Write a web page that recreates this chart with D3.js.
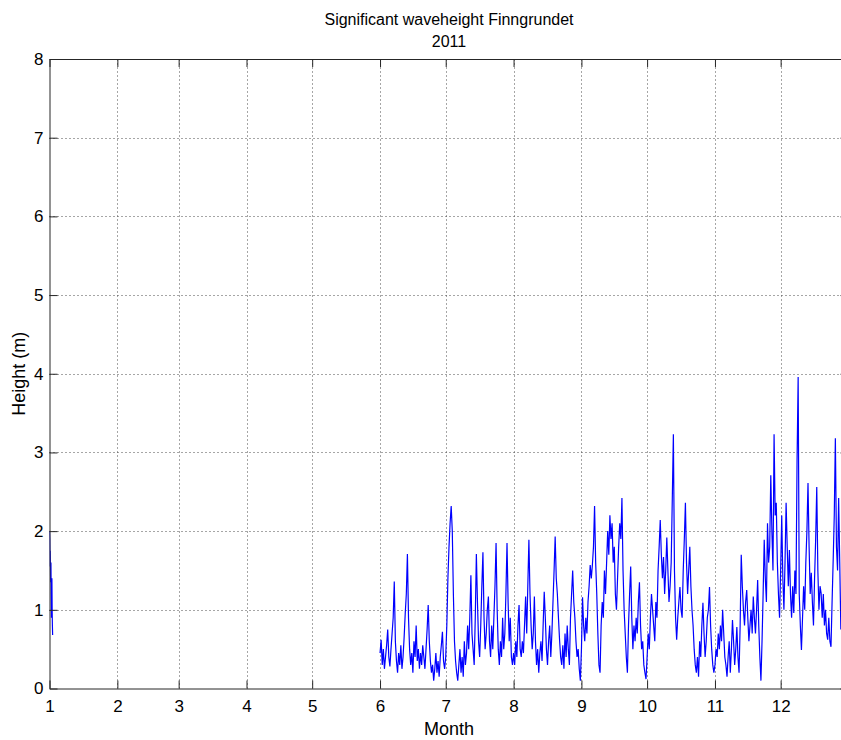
<!DOCTYPE html>
<html>
<head>
<meta charset="utf-8">
<title>Significant waveheight Finngrundet 2011</title>
<script src="https://cdn.jsdelivr.net/npm/d3@7"></script>
<style>
  html, body { margin: 0; padding: 0; background: #fff; }
  svg { display: block; }
  text { font-family: "Liberation Sans", Arial, Helvetica, sans-serif; fill: #000; }
</style>
</head>
<body>
<svg id="chart" width="841" height="740"></svg>
<script>
// Month boundaries as day-of-year offsets from 1 January 2011, and their labels
const monthStarts = [0, 31, 59, 90, 120, 151, 181, 212, 243, 273, 304, 334];
const monthLabels = ["1", "2", "3", "4", "5", "6", "7", "8", "9", "10", "11", "12"];
const heightTicks = [0, 1, 2, 3, 4, 5, 6, 7, 8];

// Significant wave height (m). Each array starts at the given day and
// has one sample per step (days).
const janStart = 0, janStep = 0.11;
const janHs = [2.0, 1.9, 1.55, 1.75, 1.5, 1.35, 1.6, 1.2, 0.9, 1.1, 1.4, 1.0, 0.8, 0.68];

const sampleStep = 0.5;
const junStart = 151;
const junHs = [
  0.45, 0.62, 0.3, 0.5, 0.25, 0.4, 0.55, 0.75, 0.4, 0.28,
  0.5, 0.7, 0.9, 1.36, 0.6, 0.35, 0.2, 0.45, 0.3, 0.55,
  0.25, 0.4, 0.65, 0.95, 1.2, 1.71, 0.9, 0.5, 0.3, 0.45,
  0.2, 0.6, 0.4, 0.8, 0.35, 0.5, 0.25, 0.45, 0.3, 0.55,
  0.4, 0.25, 0.5, 0.75, 1.06, 0.6, 0.35, 0.2, 0.3, 0.1,
  0.25, 0.45, 0.2, 0.35, 0.15, 0.4, 0.55, 0.72, 0.35, 0.25
];
const julStart = 181;
const julHs = [
  0.4, 0.8, 1.4, 1.8, 2.1, 2.32, 2.0, 1.2, 0.6, 0.35,
  0.2, 0.1, 0.3, 0.5, 0.2, 0.4, 0.15, 0.6, 0.3, 0.45,
  0.8, 0.5, 0.9, 1.44, 0.7, 0.5, 0.3, 0.9, 1.71, 1.1,
  0.6, 0.4, 0.8, 1.3, 1.73, 0.9, 0.5, 0.7, 1.0, 1.17,
  0.6, 0.4, 0.8, 0.5, 0.9, 1.3, 1.85, 1.0, 0.5, 0.3,
  0.6, 0.4, 0.9, 0.5, 0.7, 1.2, 1.85, 1.1, 0.6, 0.9,
  0.4, 0.3
];
const augStart = 212;
const augHs = [
  0.45, 0.3, 0.6, 0.4, 0.8, 1.06, 0.5, 0.4, 0.6, 0.45,
  0.8, 1.17, 0.7, 1.3, 1.89, 1.2, 0.8, 0.5, 0.7, 1.17,
  0.6, 0.3, 0.5, 0.2, 0.45, 0.6, 0.35, 0.8, 1.23, 0.9,
  0.5, 0.3, 0.6, 0.8, 0.4, 0.7, 1.1, 1.5, 1.93, 1.4,
  1.2, 0.9, 0.62, 0.4, 0.3, 0.55, 0.25, 0.7, 0.4, 0.8,
  0.5, 0.3, 0.9, 1.2, 1.5, 1.1, 0.9, 0.6, 0.4, 0.5,
  0.25, 0.1
];
const sepStart = 243;
const sepHs = [
  0.5, 1.16, 0.8, 0.6, 0.9, 0.7, 1.1, 1.3, 1.57, 1.4,
  1.57, 1.8, 2.32, 1.6, 1.2, 0.7, 0.3, 0.2, 0.8, 1.1,
  0.9, 1.5, 1.2, 1.6, 2.0, 1.7, 2.2, 1.9, 2.1, 1.6,
  1.8, 1.2, 1.0, 1.4, 1.8, 2.1, 1.9, 2.42, 1.5, 1.0,
  0.7, 0.4, 0.2, 0.8, 1.2, 1.55, 0.9, 0.5, 0.8, 0.6,
  0.9, 0.7, 1.1, 1.35, 0.8, 0.5, 0.6, 0.3, 0.2, 0.12
];
const octStart = 273;
const octHs = [
  0.4, 0.7, 0.5, 0.9, 1.2, 1.0, 0.8, 0.6, 1.1, 0.9,
  1.5, 1.8, 2.14, 1.7, 1.4, 1.67, 1.2, 1.5, 1.92, 1.5,
  1.1, 1.3, 1.6, 2.4, 3.23, 1.5, 0.9, 0.62, 0.9, 1.1,
  1.29, 1.0, 0.9, 1.5, 1.9, 2.36, 1.6, 1.2, 1.5, 1.8,
  1.3, 1.0, 0.8, 0.5, 0.3, 0.2, 0.4, 0.15, 0.6, 0.4,
  0.8, 1.09, 0.7, 0.4, 0.6, 0.9, 1.0, 1.29, 0.8, 0.5,
  0.3, 0.2
];
const novStart = 304;
const novHs = [
  0.3, 0.5, 0.4, 0.7, 0.5, 0.8, 0.6, 1.0, 0.7, 0.4,
  0.3, 0.15, 0.4, 0.6, 0.2, 0.5, 0.87, 0.6, 0.3, 0.5,
  0.78, 0.4, 0.2, 0.8, 1.7, 1.3, 1.0, 0.8, 1.1, 1.25,
  0.9, 0.6, 0.8, 1.0, 0.7, 1.17, 0.9, 0.7, 1.0, 1.38,
  0.8, 0.4, 0.1, 0.6, 1.2, 1.89, 1.4, 1.1, 2.1, 1.6,
  1.8, 2.71, 2.0, 1.5, 3.23, 2.2, 2.36, 1.6, 1.2, 0.9
];
const decStart = 334;
const decHs = [
  1.5, 2.2, 1.4, 1.0, 1.6, 2.36, 1.8, 1.3, 1.76, 1.2,
  0.9, 1.3, 0.96, 1.5, 1.2, 2.9, 3.96, 1.2, 0.8, 0.49,
  0.9, 1.3, 1.0, 1.6, 2.0, 2.61, 1.8, 1.2, 1.47, 1.1,
  0.8, 1.4, 1.9, 2.56, 1.5, 1.0, 1.3, 1.21, 0.9, 1.2,
  0.8, 1.0, 0.7, 0.62, 0.9, 0.6, 0.53, 1.1, 1.63, 2.2,
  3.18, 1.8, 1.5, 2.42, 1.6, 0.75, 1.0, 1.3, 0.9, 1.2,
  1.0, 0.9
];

// Turn a run of samples into [day, value] points
function toPoints(start, step, values) {
  return values.map((v, i) => [start + i * step, v]);
}
const winterSegment = toPoints(janStart, janStep, janHs);
const summerSegment = [].concat(
  toPoints(junStart, sampleStep, junHs),
  toPoints(julStart, sampleStep, julHs),
  toPoints(augStart, sampleStep, augHs),
  toPoints(sepStart, sampleStep, sepHs),
  toPoints(octStart, sampleStep, octHs),
  toPoints(novStart, sampleStep, novHs),
  toPoints(decStart, sampleStep, decHs)
);

const svg = d3.select("#chart");
const plotLeft = 49.5, plotRight = 848.5, plotTop = 59, plotBottom = 688.5;

const x = d3.scaleLinear().domain([0, 365]).range([plotLeft, plotRight]);
const y = d3.scaleLinear().domain([0, 8]).range([plotBottom, plotTop]);

// Dotted grid
const grid = svg.append("g").attr("stroke", "#4d4d4d").attr("stroke-width", 1)
  .attr("stroke-dasharray", "1,3");
grid.selectAll("line.v").data(monthStarts.slice(1)).join("line")
  .attr("class", "v")
  .attr("x1", d => Math.round(x(d)) + 0.5).attr("x2", d => Math.round(x(d)) + 0.5)
  .attr("y1", plotBottom).attr("y2", plotTop);
grid.selectAll("line.h").data(heightTicks.slice(1, -1)).join("line")
  .attr("class", "h")
  .attr("x1", plotLeft).attr("x2", plotRight)
  .attr("y1", d => Math.round(y(d)) + 0.5).attr("y2", d => Math.round(y(d)) + 0.5);

// Data
svg.append("clipPath").attr("id", "plotClip")
  .append("rect").attr("x", plotLeft).attr("y", plotTop)
  .attr("width", plotRight - plotLeft).attr("height", plotBottom - plotTop);

const line = d3.line().x(d => x(d[0])).y(d => y(d[1]));
const lines = svg.append("g").attr("clip-path", "url(#plotClip)");
[winterSegment, summerSegment].forEach(seg => {
  lines.append("path").datum(seg)
    .attr("d", line)
    .attr("fill", "none")
    .attr("stroke", "#0000ff")
    .attr("stroke-width", 1.2)
    .attr("stroke-linejoin", "miter");
});

// Axes with inward ticks
const fontSize = "17px";
const axisColor = "#262626";

const xAxis = d3.axisBottom(x).tickValues(monthStarts)
  .tickFormat((d, i) => monthLabels[i]).tickSizeInner(-8).tickSizeOuter(0).tickPadding(11);
const gx = svg.append("g").attr("transform", `translate(0,${plotBottom})`).call(xAxis);

const xAxisTop = d3.axisTop(x).tickValues(monthStarts).tickFormat("")
  .tickSizeInner(-8).tickSizeOuter(0);
const gxt = svg.append("g").attr("transform", `translate(0,${plotTop})`).call(xAxisTop);

const yAxis = d3.axisLeft(y).tickValues(heightTicks).tickFormat(d3.format("d"))
  .tickSizeInner(-8).tickSizeOuter(0).tickPadding(6);
const gy = svg.append("g").attr("transform", `translate(${plotLeft},0)`).call(yAxis);

const yAxisRight = d3.axisRight(y).tickValues(heightTicks).tickFormat("")
  .tickSizeInner(-8).tickSizeOuter(0);
const gyr = svg.append("g").attr("transform", `translate(${plotRight},0)`).call(yAxisRight);

[gx, gxt, gy, gyr].forEach(g => {
  g.select(".domain").attr("stroke", axisColor);
  g.selectAll(".tick line").attr("stroke", axisColor);
  g.selectAll(".tick text").attr("font-size", fontSize)
    .attr("font-family", "'Liberation Sans', Arial, sans-serif").attr("fill", "#000");
});

// Titles
svg.append("text").attr("x", 449).attr("y", 25).attr("text-anchor", "middle")
  .attr("font-size", "16px").text("Significant waveheight Finngrundet");
svg.append("text").attr("x", 449).attr("y", 46.5).attr("text-anchor", "middle")
  .attr("font-size", "16px").text("2011");
svg.append("text").attr("x", 449).attr("y", 735).attr("text-anchor", "middle")
  .attr("font-size", "18px").text("Month");
svg.append("text").attr("transform", `translate(25,${(plotTop + plotBottom) / 2}) rotate(-90)`)
  .attr("text-anchor", "middle").attr("font-size", "18px").text("Height (m)");
</script>
</body>
</html>
